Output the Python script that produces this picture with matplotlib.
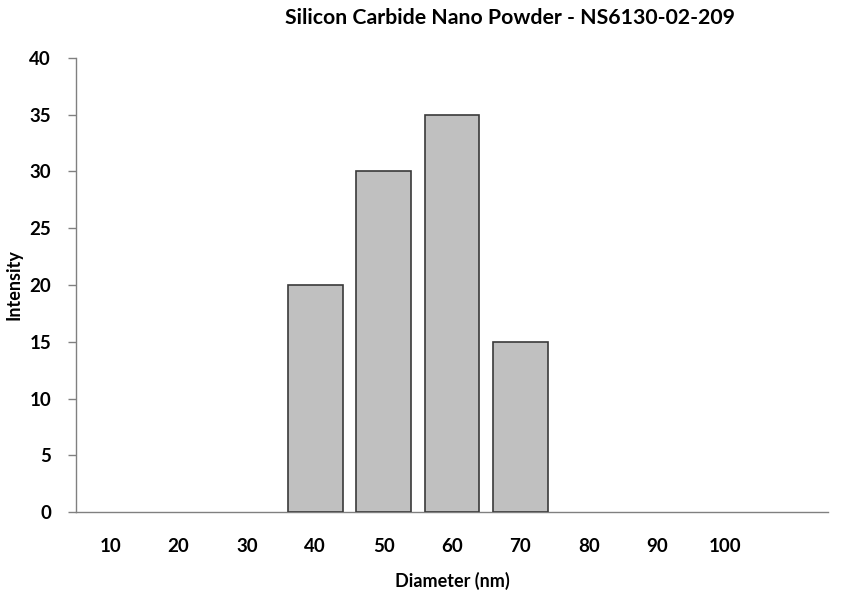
import matplotlib
matplotlib.use("Agg")
import matplotlib.pyplot as plt

categories = ["10", "20", "30", "40", "50", "60", "70", "80", "90", "100"]
values = [0, 0, 0, 20, 30, 35, 15, 0, 0, 0]
yticks = [0, 5, 10, 15, 20, 25, 30, 35, 40]

plt.rcParams['font.family'] = ['Lato', 'DejaVu Sans']
plt.rcParams['font.weight'] = 'bold'

W, H = 867, 601
fig = plt.figure(figsize=(W/100, H/100), dpi=100)
ax = fig.add_axes([76/W, 1-512/H, (828-76)/W, (512-58)/H])

x = list(range(len(categories)))
edges = ["#3a3a3a" if v > 0 else "none" for v in values]
ax.bar(x, values, width=0.8, color="#c0c0c0", edgecolor=edges, linewidth=1.2, zorder=3)

ax.set_xlim(-0.5, len(categories) + 0.5)
ax.set_ylim(0, 40)
ax.set_yticks(yticks)
ax.set_yticklabels([str(v) for v in yticks], fontsize=13.5, fontweight='bold')
ax.set_xticks(x)
ax.set_xticklabels(categories, fontsize=13.5, fontweight='bold')
ax.tick_params(axis='x', length=0, pad=19)
ax.tick_params(axis='y', length=6, width=1, color="#808080", pad=12, direction='out')

for s in ['top', 'right']:
    ax.spines[s].set_visible(False)
for s in ['left', 'bottom']:
    ax.spines[s].set_color("#808080")
    ax.spines[s].set_linewidth(1)

fig.text(510/W, 1-18/H, "Silicon Carbide Nano Powder - NS6130-02-209", ha='center', va='center',
         fontsize=15.3, fontweight='bold')
fig.text(452/W, 1-581/H, "Diameter (nm)", ha='center', va='center', fontsize=13, fontweight='bold')
fig.text(14/W, 1-285/H, "Intensity", ha='center', va='center', rotation=90, fontsize=13, fontweight='bold')

fig.savefig("out.png", dpi=100)
